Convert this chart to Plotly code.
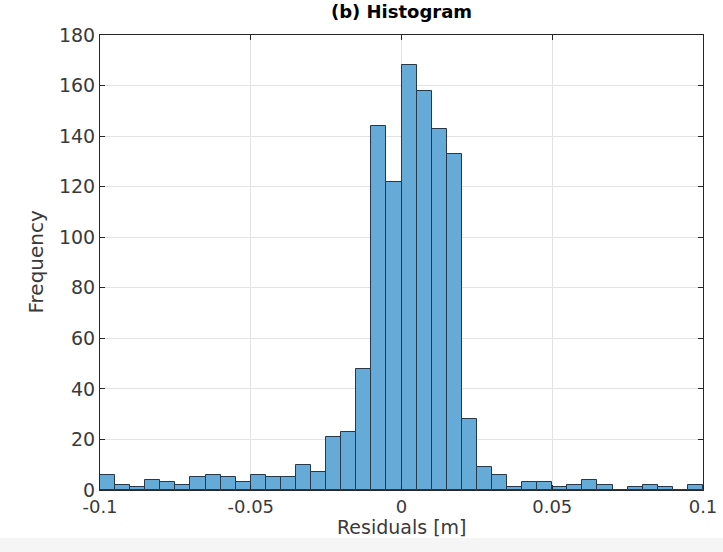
import plotly.graph_objects as go

# Histogram bins (left edges start at -0.1, width 0.005)
bin_start = -0.1
bin_width = 0.005
counts = [6, 2, 1, 4, 3, 2, 5, 6, 5, 3,
          6, 5, 5, 10, 7, 21, 23, 48, 144, 122,
          168, 158, 143, 133, 28, 9, 6, 1, 3, 3,
          1, 2, 4, 2, 0, 1, 2, 1, 0, 2]
x_ticks = [-0.1, -0.05, 0, 0.05, 0.1]
x_tick_text = ["-0.1", "-0.05", "0", "0.05", "0.1"]
y_ticks = [0, 20, 40, 60, 80, 100, 120, 140, 160, 180]

centers = [bin_start + bin_width * (i + 0.5) for i in range(len(counts))]

FONT = "DejaVu Sans, Liberation Sans, sans-serif"
PW, PH = 603, 455  # plot area size in px

fig = go.Figure()
fig.add_trace(go.Bar(
    x=centers, y=counts, width=[bin_width] * len(counts),
    marker=dict(color="#66aad7", line=dict(color="#26384a", width=1)),
    showlegend=False,
))

fig.update_layout(
    width=723, height=552,
    margin=dict(l=100, r=20, t=35, b=62),
    paper_bgcolor="white", plot_bgcolor="white",
    bargap=0,
    font=dict(family=FONT, size=18, color="#3a3a3a"),
    title=dict(text="<b>(b) Histogram</b>", x=401.5 / 723,
               xanchor="center", y=1 - 12 / 552, yanchor="middle",
               font=dict(family=FONT, size=18, color="#000000")),
    xaxis=dict(
        range=[-0.1, 0.1], tickvals=x_ticks, ticktext=x_tick_text,
        showgrid=True, gridcolor="#e3e3e3", gridwidth=1,
        zeroline=False, showline=True, linecolor="#262626", linewidth=1,
        mirror="ticks", ticks="inside", ticklen=5, tickcolor="#262626",
        tickfont=dict(size=18), automargin=False, ticklabelstandoff=0,
    ),
    yaxis=dict(
        range=[0, 180], tickvals=y_ticks,
        showgrid=True, gridcolor="#e3e3e3", gridwidth=1,
        zeroline=False, showline=True, linecolor="#262626", linewidth=1,
        mirror="ticks", ticks="inside", ticklen=5, tickcolor="#262626",
        tickfont=dict(size=19), automargin=False,
    ),
    annotations=[
        dict(text="Residuals [m]", xref="paper", yref="paper",
             x=0.5, y=-37 / PH, xanchor="center", yanchor="middle",
             showarrow=False, font=dict(size=19, color="#3a3a3a")),
        dict(text="Frequency", xref="paper", yref="paper",
             x=-65 / PW, y=0.5, xanchor="center", yanchor="middle",
             textangle=-90, showarrow=False, font=dict(size=20, color="#3a3a3a")),
    ],
    shapes=[dict(type="rect", xref="paper", yref="paper",
                 x0=-100 / PW, x1=1 + 20 / PW, y0=-62 / PH, y1=-48 / PH,
                 fillcolor="#f5f5f5", line=dict(width=0), layer="below")],
)

fig.write_html("out.html")
